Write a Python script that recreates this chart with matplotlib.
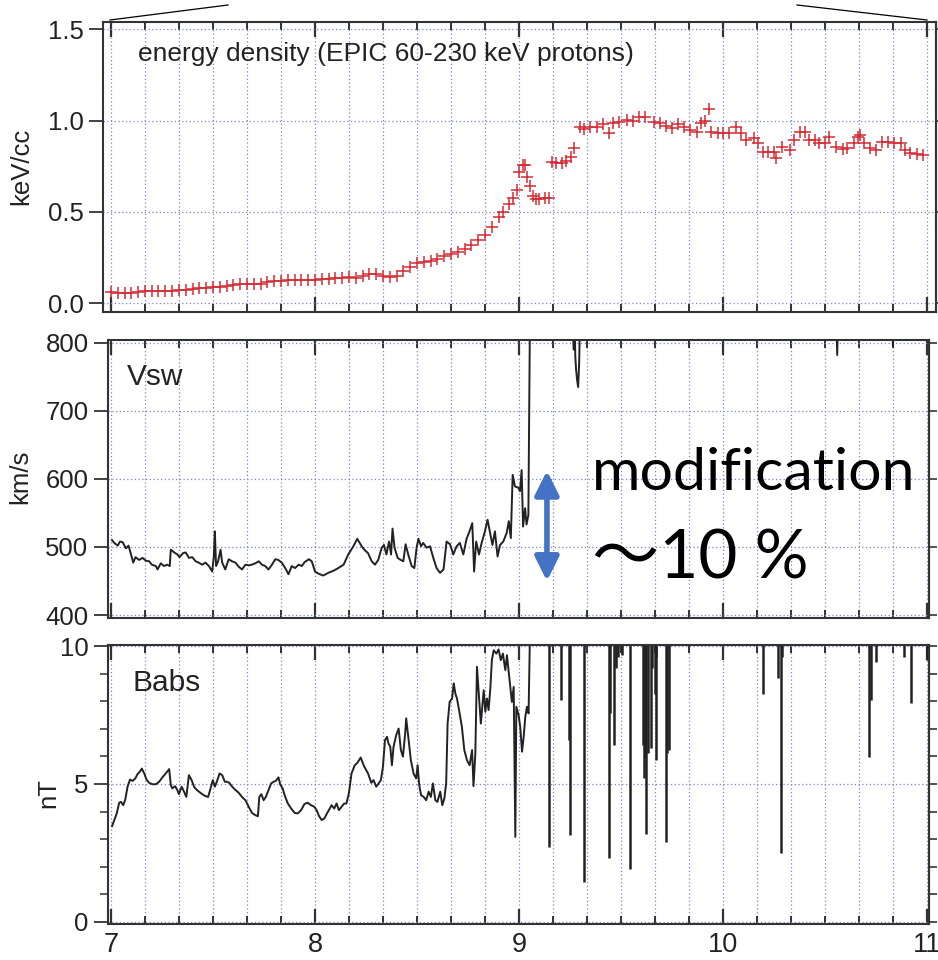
import numpy as np
import matplotlib
matplotlib.use("Agg")
import matplotlib.pyplot as plt
from matplotlib.ticker import MultipleLocator, FixedLocator
from matplotlib.lines import Line2D

plt.rcParams['font.family'] = ['Liberation Sans', 'DejaVu Sans']

# --- energy density (EPIC 60-230 keV protons), keV/cc
ed_t = [7.000, 7.033, 7.067, 7.100, 7.133, 7.167, 7.200, 7.233, 7.267, 7.300,
        7.333, 7.367, 7.400, 7.433, 7.467, 7.500, 7.533, 7.567, 7.600, 7.633,
        7.667, 7.700, 7.733, 7.767, 7.800, 7.833, 7.867, 7.900, 7.933, 7.967,
        8.000, 8.033, 8.067, 8.100, 8.133, 8.167, 8.200, 8.233, 8.267, 8.300,
        8.333, 8.367, 8.400, 8.433, 8.467, 8.500, 8.533, 8.567, 8.600, 8.633,
        8.667, 8.700, 8.733, 8.767, 8.800, 8.833, 8.867, 8.900, 8.920, 8.950,
        8.970, 8.990, 9.000,
        9.020, 9.030, 9.040, 9.055, 9.070, 9.085, 9.100, 9.125, 9.147, 9.160,
        9.180, 9.210, 9.230, 9.257, 9.270, 9.300, 9.320, 9.350, 9.380, 9.410,
        9.440, 9.460, 9.490, 9.530, 9.560, 9.590, 9.620, 9.660, 9.690, 9.720,
        9.750, 9.780, 9.810, 9.840, 9.870, 9.890, 9.910, 9.930, 9.940, 9.975,
        10.000, 10.030, 10.065, 10.090, 10.115, 10.150, 10.170, 10.196, 10.220, 10.250,
        10.260, 10.290, 10.330, 10.350, 10.376, 10.400, 10.420, 10.450, 10.470, 10.500,
        10.520, 10.556, 10.590, 10.610, 10.640, 10.660, 10.670, 10.690, 10.720, 10.750,
        10.780, 10.810, 10.840, 10.870, 10.890, 10.915, 10.950, 10.980]
ed_v = [0.060, 0.058, 0.056, 0.058, 0.064, 0.070, 0.070, 0.068, 0.066, 0.070,
        0.073, 0.075, 0.078, 0.082, 0.085, 0.088, 0.092, 0.096, 0.100, 0.104,
        0.106, 0.106, 0.108, 0.114, 0.120, 0.124, 0.126, 0.128, 0.127, 0.128,
        0.129, 0.132, 0.135, 0.136, 0.140, 0.143, 0.140, 0.148, 0.162, 0.160,
        0.150, 0.145, 0.152, 0.175, 0.200, 0.220, 0.224, 0.232, 0.245, 0.258,
        0.270, 0.283, 0.300, 0.318, 0.345, 0.375, 0.420, 0.475, 0.500, 0.545,
        0.575, 0.620, 0.720,
        0.758, 0.760, 0.690, 0.644, 0.585, 0.570, 0.570, 0.575, 0.575, 0.776,
        0.770, 0.770, 0.780, 0.800, 0.850, 0.964, 0.953, 0.967, 0.967, 0.980,
        0.935, 0.985, 0.995, 1.004, 1.000, 1.018, 1.018, 0.995, 0.985, 0.970,
        0.958, 0.980, 0.967, 0.950, 0.940, 0.985, 1.000, 1.064, 0.940, 0.930,
        0.930, 0.930, 0.967, 0.930, 0.895, 0.904, 0.876, 0.830, 0.830, 0.830,
        0.795, 0.858, 0.840, 0.895, 0.940, 0.940, 0.895, 0.895, 0.876, 0.876,
        0.913, 0.855, 0.844, 0.850, 0.876, 0.913, 0.922, 0.876, 0.850, 0.840,
        0.885, 0.885, 0.876, 0.876, 0.840, 0.825, 0.820, 0.810]

# --- solar wind speed Vsw, km/s (values above 800 are off scale)
vsw_t = [7.005, 7.016, 7.033, 7.044, 7.057, 7.073, 7.086, 7.098, 7.109, 7.120,
         7.138, 7.155, 7.170, 7.187, 7.200, 7.220, 7.228, 7.244, 7.260, 7.276,
         7.288, 7.293, 7.310, 7.325, 7.336, 7.353, 7.366, 7.382, 7.398, 7.415,
         7.430, 7.447, 7.463, 7.480, 7.496, 7.504, 7.509, 7.515, 7.525, 7.537,
         7.545, 7.560, 7.577, 7.593, 7.610, 7.626, 7.642, 7.659, 7.675, 7.690,
         7.707, 7.724, 7.740, 7.756, 7.772, 7.789, 7.805, 7.820, 7.837, 7.854,
         7.870, 7.886, 7.902, 7.920, 7.935, 7.950, 7.970, 7.984, 8.000, 8.016,
         8.040, 8.065, 8.090, 8.114, 8.140, 8.163, 8.188, 8.207, 8.229, 8.245,
         8.260, 8.278, 8.294, 8.310, 8.327, 8.338, 8.350, 8.363, 8.373, 8.380,
         8.390, 8.405, 8.420, 8.433, 8.444, 8.457, 8.474, 8.487, 8.498, 8.507,
         8.520, 8.530, 8.547, 8.564, 8.580, 8.596, 8.613, 8.630, 8.645, 8.662,
         8.678, 8.694, 8.710, 8.727, 8.743, 8.755, 8.771, 8.780, 8.790, 8.804,
         8.817, 8.833, 8.846, 8.858, 8.870, 8.882, 8.895, 8.907, 8.923, 8.940,
         8.950, 8.960, 8.969, 8.980, 8.997, 9.005, 9.013, 9.020, 9.030, 9.037,
         9.046, 9.054, 9.260, 9.268, 9.272, 9.276, 9.280, 9.285, 9.290, 9.295,
         9.300, 10.555, 10.560, 10.565, 10.830, 10.833, 10.836, 11.000]
vsw_v = [510, 506, 502, 508, 507, 498, 502, 489, 477, 485,
         481, 484, 480, 479, 474, 472, 467, 476, 472, 474,
         472, 496, 492, 489, 485, 491, 492, 484, 485, 479,
         477, 474, 477, 472, 464, 486, 523, 472, 479, 496,
         477, 467, 482, 479, 477, 471, 467, 474, 473, 474,
         476, 479, 474, 472, 467, 474, 482, 481, 477, 469,
         460, 472, 469, 474, 472, 478, 482, 479, 464, 461,
         458, 462, 465, 469, 474, 489, 501, 512, 501, 495,
         491, 479, 474, 481, 499, 503, 489, 508, 489, 527,
         499, 484, 481, 479, 504, 489, 472, 469, 499, 512,
         501, 506, 499, 501, 484, 469, 462, 467, 508, 504,
         489, 501, 506, 489, 512, 521, 535, 464, 508, 489,
         506, 523, 540, 521, 503, 523, 486, 503, 508, 521,
         538, 513, 606, 589, 587, 582, 613, 530, 557, 533,
         547, 850, 850, 790, 850, 780, 760, 745, 735, 770,
         850, 850, 782, 850, 850, 796, 850, 850]

# --- magnetic field magnitude Babs, nT (values above 10 are off scale)
b_t = [7.005, 7.016, 7.028, 7.040, 7.049, 7.060, 7.070, 7.081, 7.093, 7.106,
       7.119, 7.130, 7.141, 7.151, 7.163, 7.174, 7.187, 7.203, 7.220, 7.236,
       7.252, 7.268, 7.285, 7.293, 7.300, 7.314, 7.325, 7.333, 7.346, 7.358,
       7.369, 7.382, 7.395, 7.407, 7.418, 7.431, 7.447, 7.463, 7.476, 7.488,
       7.499, 7.509, 7.520, 7.532, 7.545, 7.558, 7.569, 7.580, 7.594, 7.610,
       7.626, 7.642, 7.659, 7.675, 7.691, 7.707, 7.720, 7.727, 7.737, 7.748,
       7.759, 7.772, 7.785, 7.797, 7.808, 7.821, 7.829, 7.841, 7.854, 7.867,
       7.883, 7.900, 7.915, 7.932, 7.948, 7.964, 7.980, 7.997, 8.008, 8.020,
       8.033, 8.046, 8.057, 8.068, 8.081, 8.094, 8.106, 8.117, 8.130, 8.143,
       8.154, 8.166, 8.179, 8.195, 8.208, 8.224, 8.240, 8.260, 8.276, 8.287,
       8.300, 8.312, 8.323, 8.333, 8.343, 8.353, 8.360, 8.369, 8.377, 8.385,
       8.398, 8.410, 8.421, 8.431, 8.442, 8.447, 8.459, 8.470, 8.483, 8.496,
       8.503, 8.511, 8.520, 8.533, 8.545, 8.557, 8.568, 8.578, 8.590, 8.600,
       8.614, 8.624, 8.634, 8.643, 8.650, 8.660, 8.672, 8.680, 8.688, 8.696,
       8.709, 8.720, 8.732, 8.745, 8.758, 8.770, 8.777, 8.786, 8.794, 8.802,
       8.813, 8.827, 8.835, 8.843, 8.851, 8.860, 8.867, 8.876, 8.889, 8.900,
       8.911, 8.921, 8.933, 8.941, 8.954, 8.965, 8.974, 8.982, 8.987, 8.998,
       9.006, 9.015, 9.023, 9.031, 9.039, 9.047, 9.055]
b_v = [3.47, 3.69, 3.93, 4.32, 4.35, 4.23, 4.44, 4.90, 5.16, 5.11,
       5.20, 5.36, 5.44, 5.56, 5.38, 5.16, 5.04, 4.99, 4.99, 5.08,
       5.24, 5.38, 5.54, 4.96, 4.84, 4.92, 4.78, 4.63, 4.90, 4.72,
       4.53, 5.32, 5.14, 4.90, 4.80, 4.72, 4.63, 4.56, 4.53, 4.84,
       5.14, 4.90, 5.11, 5.38, 5.32, 5.08, 5.08, 5.04, 4.90, 4.78,
       4.68, 4.53, 4.41, 4.17, 3.95, 3.87, 3.83, 4.53, 4.63, 4.41,
       4.53, 4.78, 5.02, 5.08, 5.11, 5.24, 4.99, 4.84, 4.53, 4.29,
       4.11, 3.95, 3.93, 4.05, 4.27, 4.32, 4.23, 4.17, 4.05, 3.83,
       3.69, 3.75, 3.91, 4.05, 4.23, 4.11, 4.29, 4.05, 4.17, 4.29,
       4.29, 4.66, 5.38, 5.68, 5.77, 5.96, 5.65, 5.38, 5.04, 5.14,
       4.90, 5.02, 5.14, 5.62, 6.59, 6.71, 6.47, 6.35, 5.68, 6.35,
       6.77, 7.01, 6.23, 5.99, 6.83, 7.38, 6.59, 5.86, 5.38, 5.20,
       5.68, 4.96, 4.59, 4.53, 4.41, 4.72, 4.53, 5.02, 4.41, 4.35,
       4.72, 4.23, 4.47, 5.02, 7.19, 7.98, 8.10, 8.65, 8.28, 8.10,
       7.56, 7.07, 6.23, 5.86, 5.68, 6.23, 4.92, 6.11, 9.25, 8.40,
       7.19, 8.40, 7.62, 8.10, 7.68, 8.52, 9.49, 9.85, 9.73, 9.88,
       9.49, 9.73, 9.13, 9.67, 8.77, 7.98, 8.52, 3.08, 7.80, 7.50,
       7.07, 6.17, 6.71, 7.44, 7.80, 7.56, 11.0]

# Babs dropouts after 9.05 (field otherwise above 10 nT)
drop_t = [9.145, 9.208, 9.243, 9.248, 9.317, 9.440, 9.448, 9.464, 9.477, 9.485,
          9.503, 9.542, 9.608, 9.611, 9.616, 9.620, 9.624, 9.632, 9.645, 9.652,
          9.665, 9.670, 9.673, 9.719, 9.725, 9.735, 10.196, 10.270, 10.286, 10.290,
          10.714, 10.724, 10.748, 10.887, 10.920, 10.998]
drop_min = [2.72, 8.04, 6.59, 3.14, 1.45, 2.30, 7.56, 6.41, 9.19, 9.61,
            9.67, 1.93, 6.41, 5.20, 5.99, 7.07, 3.20, 6.11, 6.29, 9.19,
            8.28, 5.86, 9.61, 2.90, 6.11, 6.23, 8.28, 8.83, 2.48, 9.61,
            5.99, 8.04, 9.43, 9.61, 7.92, 9.49]

hours = [7, 8, 9, 10, 11]

# style
frame_c = '#333333'
grid_c = '#7b84cf'
ink = '#222222'
red = '#d42c34'


def style_axes(ax, xmin, xmax, yticks, yminor=None):
    ax.set_xlim(xmin, xmax)
    ax.xaxis.set_major_locator(FixedLocator(hours))
    ax.xaxis.set_minor_locator(MultipleLocator(1 / 6))
    ax.set_yticks(yticks)
    if yminor:
        ax.yaxis.set_minor_locator(MultipleLocator(yminor))
    ax.tick_params(axis='x', which='major', direction='in', length=11,
                   width=1.6, top=True, bottom=True, color=frame_c,
                   labelsize=19.5, labelcolor=ink, pad=6)
    ax.tick_params(axis='x', which='minor', direction='in', length=6,
                   width=1.4, top=True, bottom=True, color=frame_c)
    ax.tick_params(axis='y', which='major', direction='out', length=10,
                   width=1.3, left=True, right=False, color=frame_c,
                   labelsize=18.5, labelcolor=ink, pad=4)
    ax.tick_params(axis='y', which='minor', direction='out', length=6,
                   width=1.1, left=True, right=False, color=frame_c)
    for s in ax.spines.values():
        s.set_color(frame_c)
        s.set_linewidth(1.5)
    ax.grid(which='both', axis='x', color=grid_c, linestyle=(0, (1, 2)), lw=0.9)
    ax.grid(which='major', axis='y', color=grid_c, linestyle=(0, (1, 2)), lw=0.9)
    ax.set_axisbelow(True)
    # shorter outward ticks on the right side, no labels
    sec = ax.secondary_yaxis('right')
    sec.set_yticks(yticks)
    if yminor:
        sec.yaxis.set_minor_locator(MultipleLocator(yminor))
    sec.tick_params(axis='y', which='both', direction='out', length=6,
                    width=1.2, color=frame_c, labelright=False)
    sec.spines['right'].set_color(frame_c)
    sec.spines['right'].set_linewidth(1.5)


fig = plt.figure(figsize=(9.38, 9.6), dpi=100)
ax1 = fig.add_axes([0.1098, 0.6753, 0.8881, 0.3021])
ax2 = fig.add_axes([0.1151, 0.3559, 0.8753, 0.2899])
ax3 = fig.add_axes([0.1151, 0.0375, 0.8753, 0.2906])

# top: energy density
style_axes(ax1, 6.961, 11.044, [0.0, 0.5, 1.0, 1.5])
ax1.plot(ed_t, ed_v, linestyle='none', marker='+', markersize=8,
         markeredgewidth=1.1, color=red)
ax1.set_ylim(-0.046, 1.542)
ax1.set_yticklabels(['0.0', '0.5', '1.0', '1.5'])
ax1.set_ylabel('keV/cc', fontsize=18.5, color=ink)
ax1.yaxis.set_label_coords(-0.084, 0.5)
ax1.text(0.042, 0.889, 'energy density (EPIC 60-230 keV protons)',
         transform=ax1.transAxes, fontsize=19, color=ink, va='center')
ax1.tick_params(axis='x', labelbottom=False)

# middle: Vsw
style_axes(ax2, 6.985, 11.01, [400, 500, 600, 700, 800])
ax2.plot(vsw_t, vsw_v, color=ink, lw=1.4)
ax2.set_ylim(395.2, 804)
ax2.set_ylabel('km/s', fontsize=18.5, color=ink)
ax2.yaxis.set_label_coords(-0.0926, 0.51)
ax2.text(0.023, 0.867, 'Vsw', transform=ax2.transAxes, fontsize=21.5,
         color=ink, va='center')
ax2.tick_params(axis='x', labelbottom=False)
ax2.annotate('', xy=(9.137, 450), xytext=(9.137, 612),
             arrowprops=dict(arrowstyle='<|-|>,head_length=0.72,head_width=0.36',
                             color='#4472c4', lw=4, mutation_scale=20,
                             shrinkA=0, shrinkB=0))
ax2.text(9.358, 583.6, 'modification', family=['Lato', 'Noto Sans CJK JP'],
         fontsize=42.5, color='black', va='baseline', ha='left')
ax2.text(9.358, 454.3, '〜10 %', family=['Lato', 'Noto Sans CJK JP'],
         fontsize=48.5, color='black', va='baseline', ha='left')

# bottom: Babs
style_axes(ax3, 6.985, 11.01, [0, 5, 10], yminor=1)
ax3.plot(b_t, b_v, color=ink, lw=1.4)
ax3.vlines(drop_t, drop_min, 11.0, color=ink, lw=1.8)
ax3.set_ylim(-0.08, 10.04)
ax3.set_ylabel('nT', fontsize=18.5, color=ink)
ax3.yaxis.set_label_coords(-0.0585, 0.47)
ax3.text(0.030, 0.864, 'Babs', transform=ax3.transAxes, fontsize=21.5,
         color=ink, va='center')

# zoom-in guide lines above the top panel
fig.add_artist(Line2D([110 / 938, 228 / 938], [1 - 20 / 960, 1 - 5 / 960],
                      transform=fig.transFigure, color='black', lw=0.9))
fig.add_artist(Line2D([797 / 938, 927 / 938], [1 - 5 / 960, 1 - 20 / 960],
                      transform=fig.transFigure, color='black', lw=0.9))

fig.savefig('out.png', dpi=100)
